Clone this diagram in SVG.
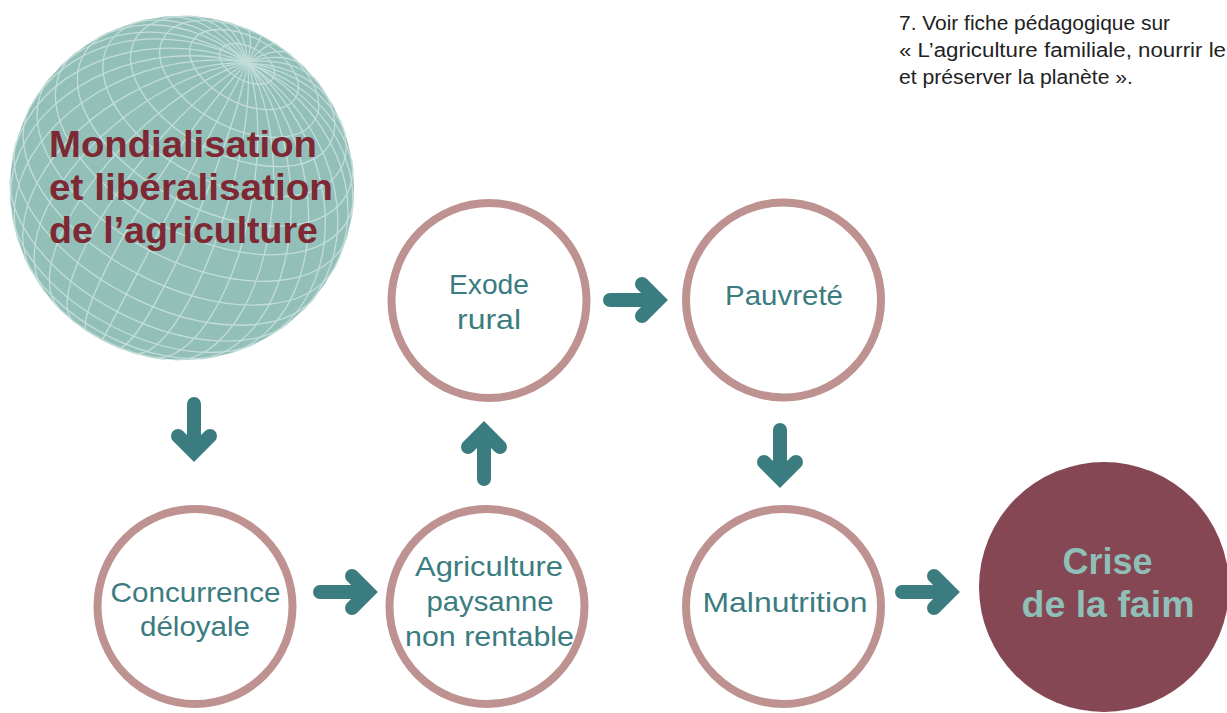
<svg xmlns="http://www.w3.org/2000/svg" xmlns:xlink="http://www.w3.org/1999/xlink" width="1227" height="713" viewBox="0 0 1227 713">
<style>
.ring{fill:#ffffff;stroke:#bd9290;stroke-width:8}
.lbl{font-family:"Liberation Sans",Arial,sans-serif;font-size:28px;fill:#3b7c80;text-anchor:middle}
.glb{font-family:"Liberation Sans",Arial,sans-serif;font-size:36px;font-weight:bold;fill:#7d2832}
.crs{font-family:"Liberation Sans",Arial,sans-serif;font-size:36px;font-weight:bold;fill:#8fbfb6;text-anchor:middle}
.note{font-family:"Liberation Sans",Arial,sans-serif;font-size:20px;fill:#222222}
.grid{fill:none;stroke:#c3ddd9;stroke-width:1.3}
.arr{fill:none;stroke:#3b7c80;stroke-width:14;stroke-linecap:round;stroke-linejoin:miter}
</style>
<defs>
<path id="arrow" class="arr" d="M-58,0 H-10 M-26,-16 L-10,0 L-26,16"/>
</defs>
<rect width="1227" height="713" fill="#ffffff"/>

<g id="footnote">
<text class="note" x="899" y="30" textLength="271" lengthAdjust="spacingAndGlyphs">7. Voir fiche pédagogique sur</text>
<text class="note" x="899" y="57" textLength="327" lengthAdjust="spacingAndGlyphs">« L’agriculture familiale, nourrir le</text>
<text class="note" x="899" y="84" textLength="234" lengthAdjust="spacingAndGlyphs">et préserver la planète ».</text>
</g>

<g id="globe">
<circle cx="182" cy="188" r="172" fill="#93bfb9"/>
<g class="grid">
<ellipse cx="247.05" cy="63.84" rx="29.86" ry="16.78" transform="rotate(27.64 247.05 63.84)"/>
<ellipse cx="244.07" cy="69.52" rx="58.82" ry="33.06" transform="rotate(27.64 244.07 69.52)"/>
<ellipse cx="239.2" cy="78.81" rx="86" ry="48.33" transform="rotate(27.64 239.2 78.81)"/>
<path d="M313.4,76.92 A110.56,62.13 27.64 1 1 198.5,16.76"/>
<path d="M339.95,119.76 A131.75,74.04 27.64 1 1 148.15,19.32"/>
<path d="M351.6,159.4 A148.95,83.7 27.64 1 1 108.8,32.3"/>
<path d="M353.78,197.63 A161.63,90.83 27.64 1 1 76.26,52.31"/>
<path d="M347.76,234.02 A169.39,95.19 27.64 1 1 49.76,77.98"/>
<path d="M334.4,267.8 A172,96.66 27.64 0 1 29.6,108.2"/>
<path d="M314.24,298.02 A169.39,95.19 27.64 0 1 16.24,141.98"/>
<path d="M287.74,323.69 A161.63,90.83 27.64 0 1 10.22,178.37"/>
<path d="M255.2,343.7 A148.95,83.7 27.64 0 1 12.4,216.6"/>
<path d="M215.85,356.68 A131.75,74.04 27.64 0 1 24.05,256.24"/>
<path d="M165.5,359.24 A110.56,62.13 27.64 0 1 50.6,299.08"/>
<path d="M102.2,340.4 L261.8,35.6"/>
<path d="M87.56,331.76 A172,24.7 123.3 0 1 276.44,44.24"/>
<path d="M73.28,321.28 A172,48.64 129.21 0 1 290.72,54.72"/>
<path d="M59.05,308.3 A172,71.12 135.62 0 1 304.95,67.7"/>
<path d="M44.81,291.77 A172,91.44 142.89 0 1 319.19,84.23"/>
<path d="M30.9,270.15 A172,108.96 151.46 0 1 333.1,105.85"/>
<path d="M18.53,241.48 A172,123.19 161.88 0 1 345.47,134.52"/>
<path d="M10.74,203.77 A172,133.66 174.74 0 1 353.26,172.23"/>
<path d="M12.75,157.41 A172,140.08 10.24 0 1 351.25,218.59"/>
<path d="M29.64,108.16 A172,142.24 27.65 0 1 334.36,267.84"/>
<path d="M60.53,66.24 A172,140.08 45.07 0 1 303.47,309.76"/>
<path d="M97.5,38.19 A172,133.66 60.58 0 1 266.5,337.81"/>
<path d="M132.89,23.17 A172,123.19 73.41 0 1 231.11,352.83"/>
<path d="M163.51,17 A172,108.96 83.83 0 1 200.49,359"/>
<path d="M189.17,16.14 A172,91.44 -87.61 0 1 174.83,359.86"/>
<path d="M210.86,18.44 A172,71.12 -80.34 0 1 153.14,357.56"/>
<path d="M229.63,22.73 A172,48.64 -73.92 0 1 134.37,353.27"/>
<path d="M246.38,28.49 A172,24.7 -68.02 0 1 117.62,347.51"/>
</g>
<text class="glb" x="49" y="157" textLength="268" lengthAdjust="spacingAndGlyphs">Mondialisation</text>
<text class="glb" x="49" y="200" textLength="284" lengthAdjust="spacingAndGlyphs">et libéralisation</text>
<text class="glb" x="49" y="243" textLength="269" lengthAdjust="spacingAndGlyphs">de l’agriculture</text>
</g>

<g id="concurrence">
<circle class="ring" cx="195" cy="606.5" r="97.5"/>
<text class="lbl" x="195.5" y="602" textLength="170" lengthAdjust="spacingAndGlyphs">Concurrence</text>
<text class="lbl" x="195" y="636" textLength="110" lengthAdjust="spacingAndGlyphs">déloyale</text>
</g>

<g id="agriculture">
<circle class="ring" cx="487" cy="606.5" r="97.5"/>
<text class="lbl" x="489" y="576" textLength="148" lengthAdjust="spacingAndGlyphs">Agriculture</text>
<text class="lbl" x="490" y="611" textLength="127" lengthAdjust="spacingAndGlyphs">paysanne</text>
<text class="lbl" x="489.5" y="645.5" textLength="169" lengthAdjust="spacingAndGlyphs">non rentable</text>
</g>

<g id="exode">
<circle class="ring" cx="489" cy="300.5" r="97.5"/>
<text class="lbl" x="489" y="294" textLength="80" lengthAdjust="spacingAndGlyphs">Exode</text>
<text class="lbl" x="489" y="328.5" textLength="64" lengthAdjust="spacingAndGlyphs">rural</text>
</g>

<g id="pauvrete">
<circle class="ring" cx="783.5" cy="300" r="97.5"/>
<text class="lbl" x="784" y="305" textLength="118" lengthAdjust="spacingAndGlyphs">Pauvreté</text>
</g>

<g id="malnutrition">
<circle class="ring" cx="783.5" cy="606.5" r="97.5"/>
<text class="lbl" x="785" y="612" textLength="165" lengthAdjust="spacingAndGlyphs">Malnutrition</text>
</g>

<g id="crise">
<circle cx="1104" cy="587" r="125" fill="#844753"/>
<text class="crs" x="1107.5" y="574">Crise</text>
<text class="crs" x="1108" y="617" textLength="173" lengthAdjust="spacingAndGlyphs">de la faim</text>
</g>

<g id="connectors">
<use xlink:href="#arrow" transform="translate(194,462) rotate(90)"/>
<use xlink:href="#arrow" transform="translate(378,592)"/>
<use xlink:href="#arrow" transform="translate(484,421) rotate(-90)"/>
<use xlink:href="#arrow" transform="translate(668,300)"/>
<use xlink:href="#arrow" transform="translate(780,488) rotate(90)"/>
<use xlink:href="#arrow" transform="translate(960,592)"/>
</g>
</svg>
